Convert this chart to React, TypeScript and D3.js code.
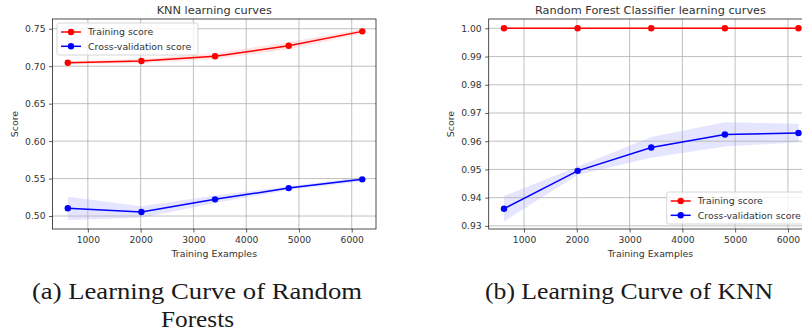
import React, { useEffect, useRef } from 'react';
import * as d3 from 'd3';

// training set sizes used by learning_curve
const trainSizes = [620, 2015, 3410, 4805, 6200];
const xTicks = [1000, 2000, 3000, 4000, 5000, 6000];
const xDomain = [330, 6460];

// KNN panel
const knnTrainMean = [0.7047, 0.707, 0.7132, 0.7273, 0.7465];
const knnTrainStd = [0.002, 0.003, 0.004, 0.005, 0.003];
const knnCvMean = [0.5103, 0.5053, 0.5223, 0.5373, 0.549];
const knnCvStd = [0.0155, 0.0077, 0.005, 0.0025, 0.003];
const knnYTicks = [0.5, 0.55, 0.6, 0.65, 0.7, 0.75];
const knnYDomain = [0.4827, 0.763];

// Random forest panel
const rfTrainMean = [1, 1, 1, 1, 1];
const rfTrainStd = [0, 0, 0, 0, 0];
const rfCvMean = [0.9361, 0.9495, 0.9578, 0.9624, 0.9629];
const rfCvStd = [0.0045, 0.0015, 0.0037, 0.0043, 0.0033];
const rfYTicks = [0.93, 0.94, 0.95, 0.96, 0.97, 0.98, 0.99, 1.0];
const rfYDomain = [0.9289, 1.0033];

const legendLabels = ['Training score', 'Cross-validation score'];
const captions = ['(a) Learning Curve of Random', 'Forests', '(b) Learning Curve of KNN'];

const FONT = 'DejaVu Sans, sans-serif';
const TEXT = '#333';

interface PanelProps {
  x0: number;
  y0: number;
  width: number;
  height: number;
  title: string;
  trainMean: number[];
  trainStd: number[];
  cvMean: number[];
  cvStd: number[];
  yTicks: number[];
  yDomain: number[];
  legendAt: 'upper left' | 'lower right';
}

const Panel: React.FC<PanelProps> = (p) => {
  const gRef = useRef<SVGGElement>(null);

  useEffect(() => {
    const g = d3.select(gRef.current);
    g.selectAll('*').remove();
    g.attr('transform', `translate(${p.x0},${p.y0})`);

    const w = p.width;
    const h = p.height;
    const x = d3.scaleLinear().domain(xDomain).range([0, w]);
    const y = d3.scaleLinear().domain(p.yDomain).range([h, 0]);

    const series = [
      { mean: p.trainMean, std: p.trainStd, color: '#ff0000' },
      { mean: p.cvMean, std: p.cvStd, color: '#0000ff' },
    ];

    // std bands
    series.forEach(s => {
      const area = d3.area<number>()
        .x((_d, i) => x(trainSizes[i]))
        .y0((d, i) => y(d - s.std[i]))
        .y1((d, i) => y(d + s.std[i]));
      g.append('path')
        .attr('d', area(s.mean) || '')
        .attr('fill', s.color)
        .attr('fill-opacity', 0.1)
        .attr('stroke', 'none');
    });

    // grid
    g.append('g').selectAll('line').data(xTicks).join('line')
      .attr('x1', d => x(d)).attr('x2', d => x(d))
      .attr('y1', 0).attr('y2', h)
      .attr('stroke', '#b0b0b0').attr('stroke-width', 0.8);
    g.append('g').selectAll('line').data(p.yTicks).join('line')
      .attr('x1', 0).attr('x2', w)
      .attr('y1', d => y(d)).attr('y2', d => y(d))
      .attr('stroke', '#b0b0b0').attr('stroke-width', 0.8);

    // lines + markers
    series.forEach(s => {
      const line = d3.line<number>()
        .x((_d, i) => x(trainSizes[i]))
        .y(d => y(d));
      g.append('path')
        .attr('d', line(s.mean) || '')
        .attr('fill', 'none')
        .attr('stroke', s.color)
        .attr('stroke-width', 1.5);
      g.append('g').selectAll('circle').data(s.mean).join('circle')
        .attr('cx', (_d, i) => x(trainSizes[i]))
        .attr('cy', d => y(d))
        .attr('r', 3.2)
        .attr('fill', s.color);
    });

    // axes
    const xAxis = g.append('g')
      .attr('transform', `translate(0,${h})`)
      .call(d3.axisBottom(x).tickValues(xTicks).tickFormat(d3.format('d')).tickSize(3.5).tickPadding(3.5));
    const yAxis = g.append('g')
      .call(d3.axisLeft(y).tickValues(p.yTicks).tickFormat(d3.format('.2f')).tickSize(3.5).tickPadding(3.5));
    [xAxis, yAxis].forEach(a => {
      a.select('.domain').remove();
      a.selectAll('.tick line').attr('stroke', TEXT).attr('stroke-width', 0.8);
      a.selectAll('.tick text')
        .attr('fill', TEXT)
        .attr('font-family', FONT)
        .attr('font-size', 9.2);
    });

    // frame
    g.append('rect')
      .attr('x', 0).attr('y', 0).attr('width', w).attr('height', h)
      .attr('fill', 'none').attr('stroke', '#222').attr('stroke-width', 0.8);

    // labels
    g.append('text')
      .attr('x', w / 2).attr('y', -5.5)
      .attr('text-anchor', 'middle')
      .attr('font-family', FONT).attr('font-size', 11.3).attr('fill', TEXT)
      .text(p.title);
    g.append('text')
      .attr('x', w / 2).attr('y', h + 28)
      .attr('text-anchor', 'middle')
      .attr('font-family', FONT).attr('font-size', 9.4).attr('fill', TEXT)
      .text('Training Examples');
    g.append('text')
      .attr('transform', `translate(-35,${h / 2}) rotate(-90)`)
      .attr('text-anchor', 'middle')
      .attr('font-family', FONT).attr('font-size', 9.4).attr('fill', TEXT)
      .text('Score');

    // legend
    const lw = 141;
    const lh = 32;
    const lx = p.legendAt === 'upper left' ? 4.5 : w - 4.5 - lw;
    const ly = p.legendAt === 'upper left' ? 4 : h - 5 - lh;
    const leg = g.append('g').attr('transform', `translate(${lx},${ly})`);
    leg.append('rect')
      .attr('width', lw).attr('height', lh).attr('rx', 2)
      .attr('fill', 'white').attr('fill-opacity', 0.8)
      .attr('stroke', '#cccccc').attr('stroke-width', 0.8);
    legendLabels.forEach((label, i) => {
      const cy = 9 + i * 14.3;
      leg.append('line')
        .attr('x1', 4).attr('x2', 24).attr('y1', cy).attr('y2', cy)
        .attr('stroke', series[i].color).attr('stroke-width', 1.5);
      leg.append('circle')
        .attr('cx', 14).attr('cy', cy).attr('r', 3.2).attr('fill', series[i].color);
      leg.append('text')
        .attr('x', 31).attr('y', cy + 3.4)
        .attr('font-family', FONT).attr('font-size', 9.4).attr('fill', TEXT)
        .text(label);
    });
  }, [p]);

  return <g ref={gRef} />;
};

const App: React.FC = () => {
  return (
    <div style={{ position: 'absolute', left: 0, top: 0, width: 802, height: 332, background: 'white' }}>
      <svg width={802} height={332} style={{ display: 'block' }}>
        <Panel
          x0={52.5} y0={19} width={323.5} height={210}
          title="KNN learning curves"
          trainMean={knnTrainMean} trainStd={knnTrainStd}
          cvMean={knnCvMean} cvStd={knnCvStd}
          yTicks={knnYTicks} yDomain={knnYDomain}
          legendAt="upper left"
        />
        <Panel
          x0={488.7} y0={19} width={323.5} height={210}
          title="Random Forest Classifier learning curves"
          trainMean={rfTrainMean} trainStd={rfTrainStd}
          cvMean={rfCvMean} cvStd={rfCvStd}
          yTicks={rfYTicks} yDomain={rfYDomain}
          legendAt="lower right"
        />
        <g fontFamily="Liberation Serif, serif" fontSize={23.5} fill="#1a1a1a">
          <text x={32} y={298.5} textLength={330} lengthAdjust="spacingAndGlyphs">{captions[0]}</text>
          <text x={161} y={327} textLength={73} lengthAdjust="spacingAndGlyphs">{captions[1]}</text>
          <text x={485} y={298.5} textLength={288} lengthAdjust="spacingAndGlyphs">{captions[2]}</text>
        </g>
      </svg>
    </div>
  );
};

export default App;
